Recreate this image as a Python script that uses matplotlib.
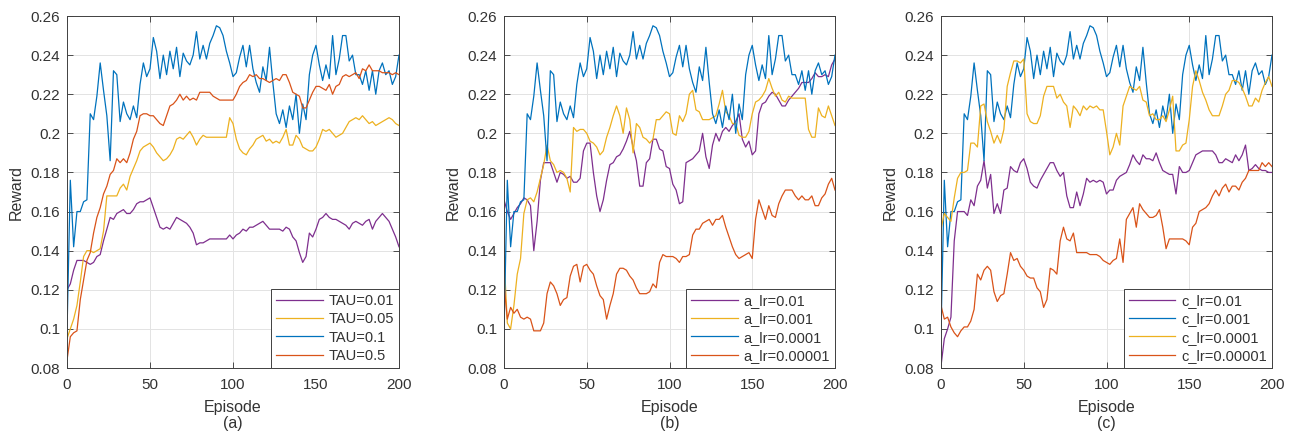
import matplotlib
matplotlib.use("Agg")
import matplotlib.pyplot as plt
import numpy as np

# ---------------------------------------------------------------------
# Data (one value every 2 episodes)
# ---------------------------------------------------------------------
EPISODES = np.arange(0, 201, 2)

# shared curve (TAU=0.1 / a_lr=0.0001 / c_lr=0.001)
BASE_BLUE = [
    0.098, 0.176, 0.142, 0.160, 0.160, 0.165, 0.166, 0.210, 0.207, 0.219,
    0.236, 0.222, 0.209, 0.186, 0.232, 0.230, 0.206, 0.216, 0.210, 0.207,
    0.214, 0.208, 0.225, 0.236, 0.229, 0.233, 0.249, 0.242, 0.228, 0.240,
    0.230, 0.242, 0.233, 0.244, 0.229, 0.241, 0.237, 0.235, 0.240, 0.252,
    0.238, 0.245, 0.238, 0.246, 0.250, 0.255, 0.254, 0.250, 0.242, 0.236,
    0.229, 0.231, 0.239, 0.245, 0.234, 0.245, 0.233, 0.226, 0.221, 0.234,
    0.227, 0.244, 0.226, 0.210, 0.205, 0.212, 0.203, 0.214, 0.207, 0.220,
    0.200, 0.215, 0.207, 0.230, 0.240, 0.245, 0.235, 0.227, 0.235, 0.228,
    0.250, 0.230, 0.238, 0.250, 0.250, 0.237, 0.240, 0.230, 0.230, 0.225,
    0.232, 0.222, 0.232, 0.220, 0.232, 0.236, 0.230, 0.232, 0.225, 0.229,
    0.240,
]

# panel (a)
TAU_001 = [
    0.120, 0.123, 0.130, 0.135, 0.135, 0.135, 0.134, 0.133, 0.134, 0.137,
    0.138, 0.145, 0.151, 0.157, 0.156, 0.159, 0.160, 0.161, 0.159, 0.159,
    0.161, 0.164, 0.165, 0.165, 0.166, 0.167, 0.162, 0.157, 0.152, 0.151,
    0.152, 0.151, 0.154, 0.157, 0.156, 0.155, 0.154, 0.152, 0.149, 0.143,
    0.144, 0.144, 0.145, 0.146, 0.146, 0.146, 0.146, 0.146, 0.146, 0.148,
    0.146, 0.148, 0.149, 0.151, 0.150, 0.152, 0.152, 0.153, 0.154, 0.155,
    0.153, 0.151, 0.151, 0.151, 0.151, 0.150, 0.152, 0.151, 0.147, 0.145,
    0.139, 0.134, 0.137, 0.149, 0.147, 0.151, 0.156, 0.157, 0.159, 0.157,
    0.156, 0.156, 0.155, 0.154, 0.153, 0.151, 0.154, 0.155, 0.154, 0.153,
    0.155, 0.156, 0.151, 0.155, 0.157, 0.159, 0.157, 0.155, 0.151, 0.147,
    0.142,
]
TAU_005 = [
    0.095, 0.100, 0.105, 0.112, 0.124, 0.137, 0.140, 0.140, 0.139, 0.140,
    0.141, 0.150, 0.168, 0.168, 0.168, 0.168, 0.172, 0.174, 0.171, 0.178,
    0.182, 0.186, 0.191, 0.193, 0.194, 0.195, 0.193, 0.190, 0.188, 0.186,
    0.187, 0.189, 0.192, 0.197, 0.198, 0.197, 0.199, 0.201, 0.198, 0.194,
    0.197, 0.199, 0.198, 0.198, 0.198, 0.198, 0.198, 0.198, 0.198, 0.208,
    0.205, 0.197, 0.192, 0.190, 0.189, 0.192, 0.194, 0.197, 0.198, 0.199,
    0.196, 0.197, 0.195, 0.196, 0.195, 0.198, 0.202, 0.194, 0.194, 0.199,
    0.197, 0.193, 0.192, 0.191, 0.191, 0.193, 0.197, 0.202, 0.201, 0.202,
    0.200, 0.198, 0.199, 0.200, 0.203, 0.206, 0.207, 0.208, 0.207, 0.209,
    0.207, 0.205, 0.206, 0.204, 0.205, 0.206, 0.207, 0.208, 0.207, 0.205,
    0.204,
]
TAU_05 = [
    0.084, 0.096, 0.098, 0.099, 0.115, 0.125, 0.135, 0.139, 0.149, 0.157,
    0.162, 0.169, 0.173, 0.179, 0.181, 0.187, 0.185, 0.187, 0.185, 0.190,
    0.197, 0.201, 0.209, 0.210, 0.210, 0.209, 0.209, 0.207, 0.205, 0.204,
    0.209, 0.214, 0.215, 0.217, 0.220, 0.217, 0.219, 0.217, 0.218, 0.217,
    0.221, 0.221, 0.221, 0.221, 0.219, 0.218, 0.217, 0.217, 0.217, 0.217,
    0.217, 0.220, 0.224, 0.226, 0.227, 0.230, 0.229, 0.230, 0.228, 0.228,
    0.227, 0.226, 0.227, 0.228, 0.227, 0.230, 0.230, 0.226, 0.221, 0.220,
    0.219, 0.213, 0.213, 0.217, 0.221, 0.224, 0.224, 0.223, 0.222, 0.225,
    0.220, 0.224, 0.225, 0.229, 0.230, 0.229, 0.230, 0.231, 0.228, 0.233,
    0.232, 0.235, 0.232, 0.232, 0.232, 0.231, 0.231, 0.231, 0.230, 0.231,
    0.230,
]

# panel (b)
A_LR_001 = [
    0.166, 0.160, 0.156, 0.159, 0.162, 0.164, 0.167, 0.166, 0.163, 0.140,
    0.155, 0.176, 0.185, 0.185, 0.185, 0.180, 0.175, 0.180, 0.179, 0.177,
    0.178, 0.175, 0.175, 0.177, 0.191, 0.195, 0.195, 0.180, 0.168, 0.160,
    0.166, 0.176, 0.184, 0.185, 0.188, 0.189, 0.192, 0.196, 0.201, 0.193,
    0.186, 0.173, 0.173, 0.185, 0.187, 0.197, 0.197, 0.192, 0.191, 0.183,
    0.182, 0.174, 0.171, 0.164, 0.165, 0.185, 0.186, 0.187, 0.189, 0.191,
    0.200, 0.188, 0.182, 0.194, 0.200, 0.196, 0.201, 0.203, 0.201, 0.204,
    0.206, 0.210, 0.197, 0.193, 0.196, 0.189, 0.191, 0.210, 0.215, 0.216,
    0.219, 0.221, 0.220, 0.217, 0.214, 0.214, 0.217, 0.219, 0.221, 0.223,
    0.226, 0.226, 0.226, 0.228, 0.231, 0.229, 0.229, 0.230, 0.229, 0.235,
    0.238,
]
A_LR_0001 = [
    0.137, 0.103, 0.100, 0.112, 0.128, 0.136, 0.159, 0.166, 0.167, 0.165,
    0.170, 0.177, 0.184, 0.194, 0.186, 0.184, 0.180, 0.181, 0.180, 0.177,
    0.170, 0.203, 0.201, 0.202, 0.202, 0.200, 0.196, 0.195, 0.193, 0.189,
    0.191, 0.198, 0.203, 0.209, 0.214, 0.209, 0.200, 0.213, 0.207, 0.190,
    0.205, 0.203, 0.198, 0.197, 0.195, 0.197, 0.207, 0.207, 0.209, 0.211,
    0.210, 0.200, 0.199, 0.209, 0.206, 0.210, 0.220, 0.222, 0.212, 0.211,
    0.207, 0.207, 0.207, 0.208, 0.209, 0.215, 0.222, 0.211, 0.209, 0.205,
    0.205, 0.199, 0.198, 0.198, 0.201, 0.210, 0.216, 0.217, 0.219, 0.222,
    0.228, 0.223, 0.219, 0.221, 0.217, 0.216, 0.219, 0.218, 0.218, 0.218,
    0.218, 0.218, 0.202, 0.198, 0.198, 0.213, 0.209, 0.208, 0.214, 0.209,
    0.204,
]
A_LR_000001 = [
    0.123, 0.105, 0.111, 0.108, 0.110, 0.106, 0.105, 0.106, 0.105, 0.099,
    0.099, 0.099, 0.103, 0.118, 0.124, 0.122, 0.118, 0.112, 0.115, 0.116,
    0.127, 0.132, 0.133, 0.124, 0.132, 0.133, 0.130, 0.128, 0.122, 0.117,
    0.115, 0.105, 0.112, 0.118, 0.128, 0.131, 0.131, 0.130, 0.127, 0.125,
    0.121, 0.118, 0.118, 0.118, 0.119, 0.123, 0.121, 0.134, 0.138, 0.137,
    0.137, 0.137, 0.136, 0.134, 0.137, 0.137, 0.138, 0.148, 0.151, 0.151,
    0.154, 0.155, 0.156, 0.153, 0.156, 0.156, 0.158, 0.152, 0.147, 0.142,
    0.138, 0.136, 0.137, 0.138, 0.139, 0.136, 0.156, 0.166, 0.161, 0.156,
    0.163, 0.158, 0.157, 0.164, 0.168, 0.171, 0.171, 0.171, 0.168, 0.166,
    0.168, 0.166, 0.166, 0.168, 0.163, 0.163, 0.167, 0.169, 0.174, 0.177,
    0.171,
]

# panel (c)
C_LR_001 = [
    0.081, 0.095, 0.100, 0.106, 0.145, 0.160, 0.160, 0.160, 0.158, 0.166,
    0.163, 0.173, 0.176, 0.186, 0.172, 0.179, 0.159, 0.164, 0.159, 0.171,
    0.172, 0.183, 0.181, 0.180, 0.185, 0.187, 0.182, 0.175, 0.173, 0.172,
    0.176, 0.179, 0.182, 0.185, 0.185, 0.181, 0.178, 0.180, 0.168, 0.162,
    0.162, 0.170, 0.163, 0.169, 0.177, 0.175, 0.176, 0.175, 0.176, 0.175,
    0.169, 0.171, 0.171, 0.176, 0.178, 0.179, 0.180, 0.184, 0.189, 0.186,
    0.184, 0.189, 0.187, 0.187, 0.186, 0.190, 0.185, 0.181, 0.180, 0.179,
    0.179, 0.169, 0.183, 0.180, 0.180, 0.181, 0.185, 0.189, 0.190, 0.191,
    0.191, 0.191, 0.191, 0.189, 0.185, 0.185, 0.187, 0.186, 0.185, 0.189,
    0.186, 0.189, 0.194, 0.181, 0.182, 0.184, 0.182, 0.181, 0.181, 0.180,
    0.180,
]
C_LR_00001 = [
    0.151, 0.159, 0.157, 0.155, 0.167, 0.177, 0.180, 0.180, 0.181, 0.195,
    0.195, 0.193, 0.214, 0.215, 0.206, 0.201, 0.195, 0.199, 0.195, 0.202,
    0.224, 0.231, 0.237, 0.237, 0.236, 0.238, 0.210, 0.206, 0.205, 0.205,
    0.209, 0.219, 0.224, 0.224, 0.224, 0.218, 0.220, 0.216, 0.214, 0.203,
    0.214, 0.212, 0.209, 0.214, 0.212, 0.214, 0.213, 0.214, 0.212, 0.212,
    0.201, 0.189, 0.193, 0.200, 0.194, 0.214, 0.219, 0.224, 0.223, 0.222,
    0.224, 0.217, 0.216, 0.209, 0.210, 0.207, 0.207, 0.209, 0.206, 0.212,
    0.219, 0.191, 0.191, 0.194, 0.195, 0.207, 0.224, 0.232, 0.227, 0.221,
    0.217, 0.212, 0.209, 0.209, 0.209, 0.214, 0.220, 0.222, 0.227, 0.227,
    0.226, 0.223, 0.219, 0.214, 0.214, 0.218, 0.216, 0.222, 0.226, 0.229,
    0.224,
]
C_LR_000001 = [
    0.112, 0.105, 0.106, 0.101, 0.098, 0.096, 0.099, 0.101, 0.101, 0.104,
    0.110, 0.128, 0.125, 0.130, 0.132, 0.130, 0.119, 0.114, 0.117, 0.118,
    0.128, 0.139, 0.135, 0.136, 0.132, 0.130, 0.127, 0.126, 0.126, 0.121,
    0.119, 0.111, 0.115, 0.131, 0.130, 0.128, 0.145, 0.152, 0.146, 0.145,
    0.149, 0.139, 0.139, 0.139, 0.139, 0.138, 0.138, 0.138, 0.137, 0.135,
    0.134, 0.133, 0.135, 0.136, 0.146, 0.134, 0.156, 0.159, 0.162, 0.152,
    0.164, 0.161, 0.159, 0.157, 0.157, 0.158, 0.161, 0.152, 0.141, 0.146,
    0.146, 0.146, 0.146, 0.146, 0.145, 0.143, 0.152, 0.154, 0.160, 0.161,
    0.162, 0.164, 0.168, 0.171, 0.168, 0.172, 0.174, 0.170, 0.173, 0.173,
    0.171, 0.175, 0.177, 0.181, 0.181, 0.181, 0.181, 0.185, 0.183, 0.185,
    0.183,
]

# MATLAB default colours
PURPLE = "#7E2F8E"
YELLOW = "#EDB120"
BLUE = "#0072BD"
RED = "#D95319"

PANELS = [
    ("(a)", [(TAU_001, "TAU=0.01", PURPLE), (TAU_005, "TAU=0.05", YELLOW),
             (BASE_BLUE, "TAU=0.1", BLUE), (TAU_05, "TAU=0.5", RED)]),
    ("(b)", [(A_LR_001, "a_lr=0.01", PURPLE), (A_LR_0001, "a_lr=0.001", YELLOW),
             (BASE_BLUE, "a_lr=0.0001", BLUE), (A_LR_000001, "a_lr=0.00001", RED)]),
    ("(c)", [(C_LR_001, "c_lr=0.01", PURPLE), (BASE_BLUE, "c_lr=0.001", BLUE),
             (C_LR_00001, "c_lr=0.0001", YELLOW), (C_LR_000001, "c_lr=0.00001", RED)]),
]

# axes boxes in pixels (left, right), shared top/bottom
W, H = 1293, 434
AX_X = [(67, 399), (504, 835), (941, 1272)]
AX_TOP, AX_BOTTOM = 16, 368

TXT = "#333333"
plt.rcParams["font.family"] = ["Liberation Sans", "DejaVu Sans"]

fig = plt.figure(figsize=(W / 100, H / 100), dpi=100)

for (x0, x1), (tag, series) in zip(AX_X, PANELS):
    ax = fig.add_axes([x0 / W, 1 - AX_BOTTOM / H, (x1 - x0) / W, (AX_BOTTOM - AX_TOP) / H])
    for vals, label, color in series:
        ax.plot(EPISODES, vals, color=color, lw=0.9, label=label)

    ax.set_xlim(0, 200)
    ax.set_ylim(0.08, 0.26)
    ax.set_xticks([0, 50, 100, 150, 200])
    ax.set_yticks(np.arange(0.08, 0.2601, 0.02))
    ax.yaxis.set_major_formatter(plt.FuncFormatter(lambda v, p: f"{v:g}"))
    ax.grid(True, color="#e3e3e3", lw=0.7)
    ax.set_axisbelow(True)
    ax.tick_params(direction="in", length=4, width=0.6, colors=TXT,
                   labelsize=11, top=True, right=True)
    ax.tick_params(axis="x", pad=7)
    ax.tick_params(axis="y", pad=5)
    for sp in ax.spines.values():
        sp.set_color("#404040")
        sp.set_linewidth(0.7)

    ax.set_ylabel("Reward", fontsize=11.5, color=TXT, labelpad=5)
    ax.set_xlabel("Episode\n" + tag, fontsize=11.5, color=TXT, labelpad=6, linespacing=1.1)

    leg = ax.legend(loc="lower right", bbox_to_anchor=(1, 0), borderaxespad=0,
                    fontsize=10.5, handlelength=3.2, handletextpad=0.4,
                    labelspacing=0.3, borderpad=0.35, fancybox=False,
                    framealpha=1, edgecolor="#404040")
    leg.get_frame().set_linewidth(0.7)
    for t in leg.get_texts():
        t.set_color(TXT)

fig.savefig("out.png", dpi=100)
